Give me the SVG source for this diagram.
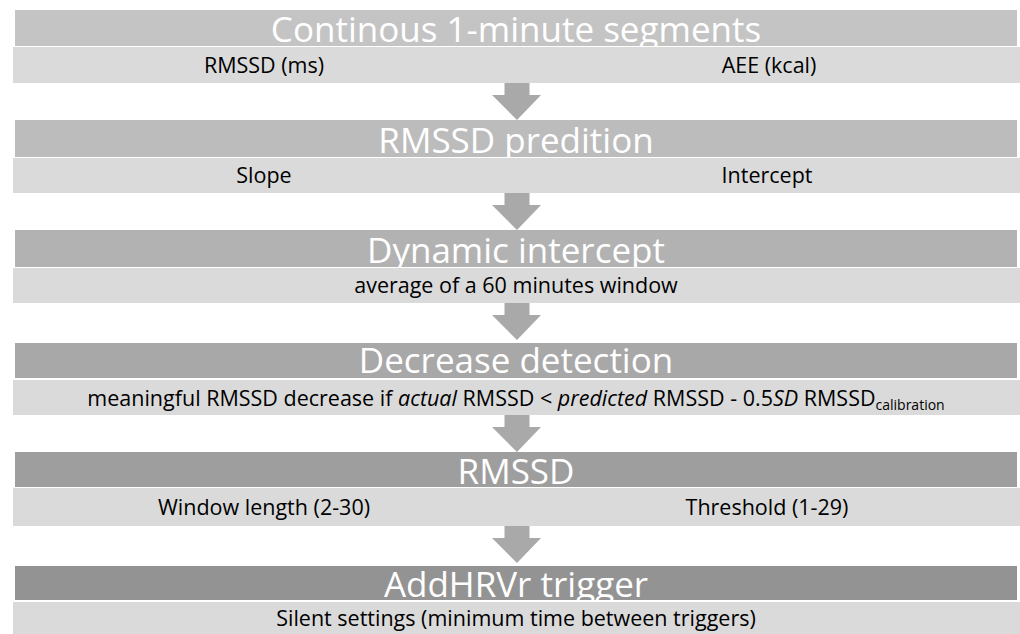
<svg xmlns="http://www.w3.org/2000/svg" width="1020" height="634" viewBox="0 0 1020 634">
<style>
.hd{font-family:"Open Sans","Liberation Sans",sans-serif;font-size:35px;fill:#ffffff;text-anchor:middle}
.sb{font-family:"Open Sans","Liberation Sans",sans-serif;font-size:21.5px;fill:#000000;text-anchor:middle}
.sub{fill:#dadada}
.arr{fill:#a9a9a9}
</style>
<defs>
<path id="ar" d="M-11.5,0 H13.5 V12 H25 L1,37 L-24,12 H-11.5 Z"/>
</defs>
<rect width="1020" height="634" fill="#ffffff"/>
<g id="connectors">
<use href="#ar" x="516" y="83" class="arr"/>
<use href="#ar" x="516" y="193" class="arr"/>
<use href="#ar" x="516" y="303" class="arr"/>
<use href="#ar" x="516" y="415" class="arr"/>
<use href="#ar" x="516" y="526" class="arr"/>
</g>
<g id="n1">
<rect x="15" y="10" width="1002" height="36" fill="#c4c4c4"/>
<text x="516" y="42" class="hd">Continous 1-minute segments</text>
<rect x="13" y="47" width="503" height="36" class="sub"/>
<rect x="516" y="47" width="504" height="36" class="sub"/>
<text x="264" y="73" class="sb">RMSSD (ms)</text>
<text x="769" y="73" class="sb">AEE (kcal)</text>
</g>
<g id="n2">
<rect x="15" y="120" width="1002" height="37" fill="#bcbcbc"/>
<text x="516" y="153" class="hd">RMSSD predition</text>
<rect x="13" y="158" width="503" height="35" class="sub"/>
<rect x="516" y="158" width="504" height="35" class="sub"/>
<text x="264" y="183" class="sb">Slope</text>
<text x="767" y="183" class="sb">Intercept</text>
</g>
<g id="n3">
<rect x="15" y="230" width="1002" height="37" fill="#b2b2b2"/>
<text x="516" y="263" class="hd">Dynamic intercept</text>
<rect x="13" y="268" width="1007" height="35" class="sub"/>
<text x="516" y="293" class="sb">average of a 60 minutes window</text>
</g>
<g id="n4">
<rect x="15" y="343" width="1002" height="35" fill="#a8a8a8"/>
<text x="516" y="373" class="hd">Decrease detection</text>
<rect x="13" y="380" width="1007" height="35" class="sub"/>
<text x="516" y="406" class="sb">meaningful RMSSD decrease if <tspan font-style="italic">actual</tspan> RMSSD &lt; <tspan font-style="italic">predicted</tspan> RMSSD - 0.5<tspan font-style="italic">SD</tspan> RMSSD<tspan font-size="14" dy="4">calibration</tspan></text>
</g>
<g id="n5">
<rect x="15" y="452" width="1002" height="35" fill="#9e9e9e"/>
<text x="516" y="484" class="hd">RMSSD</text>
<rect x="13" y="488" width="503" height="38" class="sub"/>
<rect x="516" y="488" width="504" height="38" class="sub"/>
<text x="264" y="515" class="sb">Window length (2-30)</text>
<text x="767" y="515" class="sb">Threshold (1-29)</text>
</g>
<g id="n6">
<rect x="15" y="566" width="1002" height="34" fill="#939393"/>
<text x="516" y="597" class="hd">AddHRVr trigger</text>
<rect x="13" y="602" width="1007" height="32" class="sub"/>
<text x="516" y="626" class="sb">Silent settings (minimum time between triggers)</text>
</g>
</svg>
